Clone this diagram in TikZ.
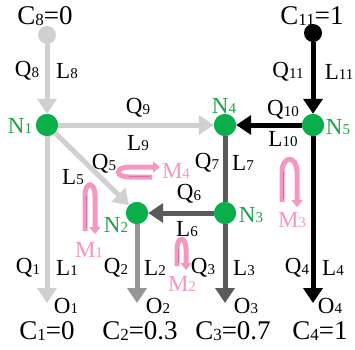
\documentclass[tikz,border=0pt]{standalone}
\usepackage{fontspec}
\setmainfont{Liberation Serif}
\usetikzlibrary{arrows.meta}
\definecolor{lgray}{RGB}{208,208,208}
\definecolor{mgray}{RGB}{150,150,150}
\definecolor{dgray}{RGB}{90,90,90}
\definecolor{ngreen}{RGB}{10,175,75}
\definecolor{tgreen}{RGB}{30,160,70}
\definecolor{mpink}{RGB}{245,150,195}
\definecolor{dpink}{RGB}{215,110,160}
\newcommand\subs[1]{\raisebox{-0.5pt}{\fontsize{15pt}{15pt}\selectfont #1}}
\newcommand\csubs[1]{\raisebox{-0.5pt}{\fontsize{17pt}{17pt}\selectfont #1}}
\begin{document}
\begin{tikzpicture}[x=1pt,y=-1pt,
  lab/.style={font=\fontsize{23pt}{23pt}\selectfont, inner sep=0pt},
  clab/.style={font=\fontsize{27pt}{27pt}\selectfont, inner sep=0pt},
  nlab/.style={lab, text=tgreen},
  mlab/.style={lab, text=mpink},
  junc/.style={circle, fill=ngreen, minimum size=22pt, inner sep=0pt},
  src/.style={circle, minimum size=18pt, inner sep=0pt},
  flow/.style={line width=5pt, -{Triangle[width=19pt,length=15pt]}},
  pipe/.style={line width=5pt},
  hair/.style={mpink, line width=5pt, -{Triangle[width=11pt,length=7pt]}},
  hairc/.style={dpink, line width=0.8pt}
]
\useasboundingbox (0,0) rectangle (355,349);

% sources
\node[src, fill=lgray] (S8) at (47,35) {};
\node[src, fill=black] (S11) at (313,33) {};
% junctions
\node[junc] (N1) at (47,125) {};
\node[junc] (N4) at (225,125) {};
\node[junc] (N5) at (313,125) {};
\node[junc] (N3) at (225,213) {};
\node[junc] (N2) at (137,213) {};
% outlet tips
\coordinate (T1) at (47,303);
\coordinate (T2) at (137,303);
\coordinate (T3) at (225,303);
\coordinate (T4) at (313,303);

% connectors
\draw[flow, lgray] (S8) -- (N1);
\draw[flow, lgray] (N1) -- (N4);
\draw[flow, lgray] (N1) -- (N2);
\draw[flow, lgray] (N1) -- (T1);
\draw[flow, black] (S11) -- (N5);
\draw[flow, black] (N5) -- (N4);
\draw[flow, black] (N5) -- (T4);
\draw[pipe, dgray] (N4) -- (N3);
\draw[flow, dgray] (N3) -- (N2);
\draw[flow, dgray] (N3) -- (T3);
\draw[flow, mgray] (N2) -- (T2);

% redraw junctions on top
\node[junc] at (N1) {};
\node[junc] at (N4) {};
\node[junc] at (N5) {};
\node[junc] at (N3) {};
\node[junc] at (N2) {};

% hairpin arrows
\draw[hair] (85,231) -- (85,196) .. controls (85,181) and (95,181) .. (95,196) -- (95,234);
\draw[hairc] (86,228) -- (86,196);
\draw[hair] (152,177) -- (129,177) .. controls (115,177) and (115,167) .. (129,167) -- (160,167);
\draw[hairc] (150,176) -- (129,176);
\draw[hair] (177,266) -- (177,249) .. controls (177,236) and (186,236) .. (186,249) -- (186,270);
\draw[hairc] (178,263) -- (178,249);
\draw[hair] (282,202) -- (282,172) .. controls (282,155) and (297,155) .. (297,172) -- (297,207);
\draw[hairc] (283,199) -- (283,172);

% labels
\node[clab] (c8) at (45,16) {C\csubs{8}=0};
\node[clab] (c11) at (312,16) {C\csubs{11}=1};
\node[lab] (q8) at (27,71) {Q\subs{8}};
\node[lab] (l8) at (67,71) {L\subs{8}};
\node[lab] (q11) at (288,72) {Q\subs{11}};
\node[lab] (l11) at (339,72) {L\subs{11}};
\node[nlab] (n1l) at (20,126) {N\subs{1}};
\node[nlab] (n4l) at (224,106) {N\subs{4}};
\node[nlab] (n5l) at (338,127) {N\subs{5}};
\node[nlab] (n3l) at (251,215) {N\subs{3}};
\node[nlab] (n2l) at (116,225) {N\subs{2}};
\node[lab] (q9) at (138,108) {Q\subs{9}};
\node[lab] (l9) at (138,143) {L\subs{9}};
\node[lab] (q10) at (283,110) {Q\subs{10}};
\node[lab] (l10) at (283,139) {L\subs{10}};
\node[lab] (q7) at (207,163) {Q\subs{7}};
\node[lab] (l7) at (243,163) {L\subs{7}};
\node[lab] (q5) at (104,164) {Q\subs{5}};
\node[lab] (l5) at (73,177) {L\subs{5}};
\node[lab] (q6) at (189,194) {Q\subs{6}};
\node[lab] (l6) at (187,229) {L\subs{6}};
\node[mlab] (m4) at (176,171) {M\subs{4}};
\node[mlab] (m1) at (89,250) {M\subs{1}};
\node[mlab] (m3) at (292,220) {M\subs{3}};
\node[mlab] (m2) at (182,284) {M\subs{2}};
\node[lab] (q1) at (28,268) {Q\subs{1}};
\node[lab] (l1) at (67,268) {L\subs{1}};
\node[lab] (q2) at (116,268) {Q\subs{2}};
\node[lab] (l2) at (155,268) {L\subs{2}};
\node[lab] (q3) at (203,268) {Q\subs{3}};
\node[lab] (l3) at (244,268) {L\subs{3}};
\node[lab] (q4) at (297,268) {Q\subs{4}};
\node[lab] (l4) at (333,268) {L\subs{4}};
\node[lab] (o1) at (66,306) {O\subs{1}};
\node[lab] (o2) at (158,306) {O\subs{2}};
\node[lab] (o3) at (246,306) {O\subs{3}};
\node[lab] (o4) at (330,306) {O\subs{4}};
\node[clab] (c1) at (47,331) {C\csubs{1}=0};
\node[clab] (c2) at (140,331) {C\csubs{2}=0.3};
\node[clab] (c3) at (233,331) {C\csubs{3}=0.7};
\node[clab] (c4) at (320,331) {C\csubs{4}=1};
\end{tikzpicture}
\end{document}
